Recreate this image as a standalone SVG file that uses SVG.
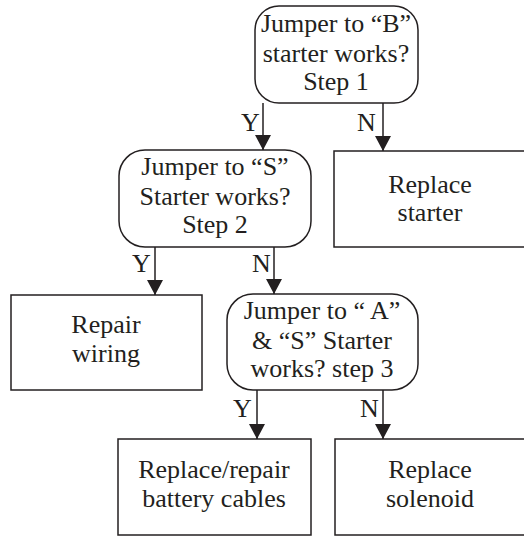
<svg xmlns="http://www.w3.org/2000/svg" width="524" height="536" viewBox="0 0 524 536">
  <defs>
    <marker id="arrow" viewBox="0 0 15 16" refX="15" refY="8" markerWidth="15" markerHeight="16" markerUnits="userSpaceOnUse" orient="auto">
      <path d="M0,0 L15,8 L0,16 Z" fill="#231f20"/>
    </marker>
    <style>
      .box { fill: #ffffff; stroke: #231f20; stroke-width: 1.5; }
      .edge { fill: none; stroke: #231f20; stroke-width: 1.5; marker-end: url(#arrow); }
      text { font-family: "Liberation Serif", "Times New Roman", serif; font-size: 26px; fill: #231f20; }
      .mid { text-anchor: middle; }
    </style>
  </defs>
  <rect width="524" height="536" fill="#ffffff"/>

  <!-- decision: step 1 -->
  <g id="step1">
    <rect class="box" x="255" y="6" width="163" height="97" rx="24" ry="24"/>
    <text class="mid" x="336" y="32">Jumper to “B”</text>
    <text class="mid" x="336" y="62">starter works?</text>
    <text class="mid" x="336" y="90">Step 1</text>
  </g>

  <!-- decision: step 2 -->
  <g id="step2">
    <rect class="box" x="119" y="150" width="192" height="97" rx="26" ry="26"/>
    <text class="mid" x="215" y="175">Jumper to “S”</text>
    <text class="mid" x="215" y="205">Starter works?</text>
    <text class="mid" x="215" y="233">Step 2</text>
  </g>

  <!-- outcome: replace starter -->
  <g id="replace-starter">
    <rect class="box" x="334" y="151" width="200" height="96"/>
    <text class="mid" x="430" y="193">Replace</text>
    <text class="mid" x="430" y="221">starter</text>
  </g>

  <!-- outcome: repair wiring -->
  <g id="repair-wiring">
    <rect class="box" x="11" y="295" width="191" height="95"/>
    <text class="mid" x="106" y="333">Repair</text>
    <text class="mid" x="106" y="362">wiring</text>
  </g>

  <!-- decision: step 3 -->
  <g id="step3">
    <rect class="box" x="227" y="294" width="191" height="96" rx="26" ry="26"/>
    <text class="mid" x="322" y="319">Jumper to “ A”</text>
    <text class="mid" x="322" y="349">&amp; “S” Starter</text>
    <text class="mid" x="322" y="377">works? step 3</text>
  </g>

  <!-- outcome: battery cables -->
  <g id="battery-cables">
    <rect class="box" x="118" y="439" width="193" height="96"/>
    <text class="mid" x="214" y="478">Replace/repair</text>
    <text class="mid" x="214" y="507">battery cables</text>
  </g>

  <!-- outcome: replace solenoid -->
  <g id="replace-solenoid">
    <rect class="box" x="335" y="439" width="200" height="96"/>
    <text class="mid" x="430" y="478">Replace</text>
    <text class="mid" x="430" y="507">solenoid</text>
  </g>

  <!-- connectors with Y/N labels -->
  <g id="connectors">
    <line class="edge" x1="263" y1="103" x2="263" y2="150"/>
    <text x="241" y="131">Y</text>
    <line class="edge" x1="383" y1="103" x2="383" y2="151"/>
    <text x="357" y="131">N</text>

    <line class="edge" x1="155" y1="247" x2="155" y2="295"/>
    <text x="132" y="272">Y</text>
    <line class="edge" x1="274" y1="247" x2="274" y2="294"/>
    <text x="252" y="272">N</text>

    <line class="edge" x1="257" y1="390" x2="257" y2="439"/>
    <text x="233" y="417">Y</text>
    <line class="edge" x1="383" y1="390" x2="383" y2="439"/>
    <text x="360" y="417">N</text>
  </g>
</svg>
